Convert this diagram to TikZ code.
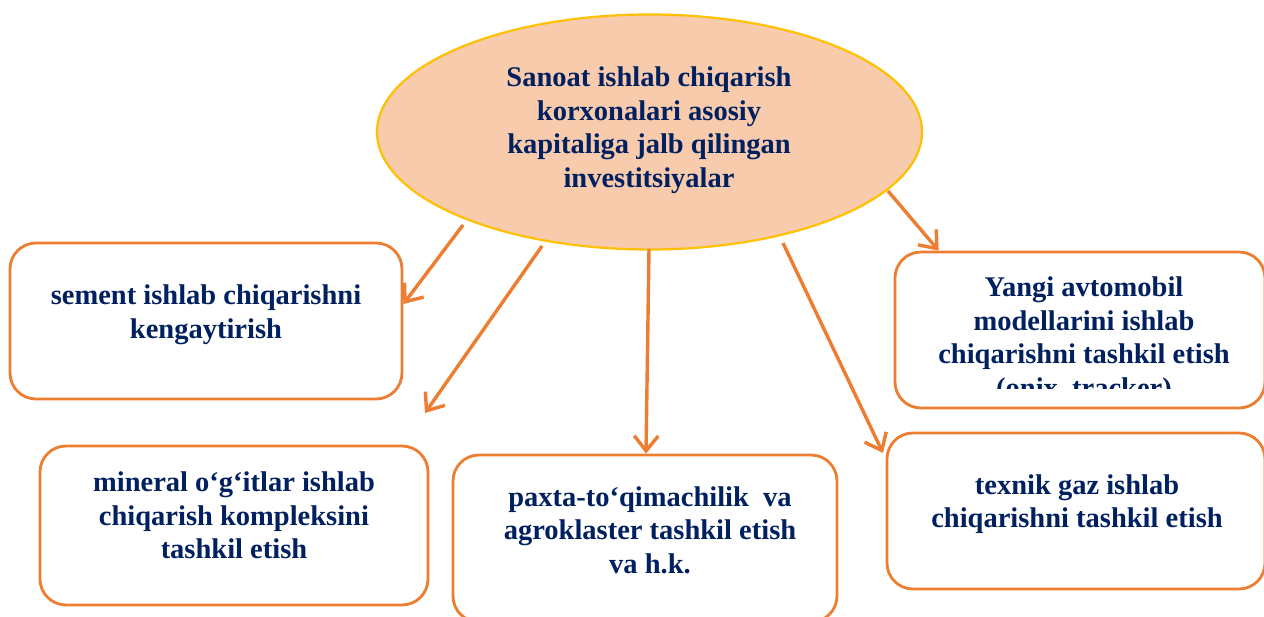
\documentclass[tikz,border=0pt]{standalone}
\usepackage{fontspec}
\setmainfont{Liberation Serif}
\usetikzlibrary{arrows.meta,shapes.geometric,calc}
\definecolor{orng}{HTML}{ED7D31}
\definecolor{peach}{HTML}{F8CBAD}
\definecolor{gold}{HTML}{FFC000}
\definecolor{navy}{HTML}{002060}
\tikzset{
  boxnode/.style={rectangle,draw=orng,line width=2.8pt,rounded corners=26pt,inner sep=0pt},
  txt/.style={text=navy,font=\bfseries\fontsize{28.5}{33.5}\selectfont,align=center,inner sep=0pt},
  arr/.style={draw=orng,line width=3.4pt,-{Straight Barb[length=15pt,width=24pt]}}
}
\begin{document}
\begin{tikzpicture}[x=1pt,y=-1pt]
\useasboundingbox (0,0) rectangle (1264,617);
\clip (0,0) rectangle (1264,617);
\fill[white] (0,0) rectangle (1264,617);

% central ellipse
\node[ellipse,draw=gold,fill=peach,line width=2.2pt,minimum width=545pt,minimum height=235pt,inner sep=0pt] (root) at (649.5,132) {};
\node[txt] (roottxt) at (649,130) {Sanoat ishlab chiqarish\\korxonalari asosiy\\kapitaliga jalb qilingan\\investitsiyalar};

% boxes
\node[boxnode,minimum width=392pt,minimum height=156pt] (sement) at (206,321) {};
\node[txt] (sementtxt) at (206,315) {sement ishlab chiqarishni\\kengaytirish};

\node[boxnode,minimum width=388pt,minimum height=159pt] (mineral) at (234,525.5) {};
\node[txt] (mineraltxt) at (234,515.5) {mineral o‘g‘itlar ishlab\\chiqarish kompleksini\\tashkil etish};

\node[boxnode,minimum width=384pt,minimum height=167pt] (paxta) at (645,538.5) {};
\node[txt] (paxtatxt) at (650,530) {paxta-to‘qimachilik~ va\\agroklaster tashkil etish\\va h.k.};

\node[boxnode,minimum width=370pt,minimum height=156pt] (yangi) at (1080,330) {};
\begin{scope}
\clip (880,255) rectangle (1264,389);
\node[txt] (yangitxt) at (1084,340) {Yangi avtomobil\\modellarini ishlab\\chiqarishni tashkil etish\\(onix, tracker)};
\end{scope}

\node[boxnode,minimum width=378pt,minimum height=156pt] (texnik) at (1076,511) {};
\node[txt] (texniktxt) at (1077,504) {texnik gaz ishlab\\chiqarishni tashkil etish};

% connector end points
\coordinate (s1) at (463,225);
\coordinate (s2) at (542,246);
\coordinate (s3) at (649,249);
\coordinate (s4) at (783,243);
\coordinate (s5) at (888,191);
\coordinate (t2) at (425,413);
\coordinate (t4) at (883,453);

\draw[arr] (s1) -- ([yshift=17pt]sement.east);
\draw[arr] (s2) -- (t2);
\draw[arr] (s3) -- ([xshift=1pt]paxta.north);
\draw[arr] (s4) -- (t4);
\draw[arr] (s5) -- ([xshift=45pt]yangi.north west);
\end{tikzpicture}
\end{document}
